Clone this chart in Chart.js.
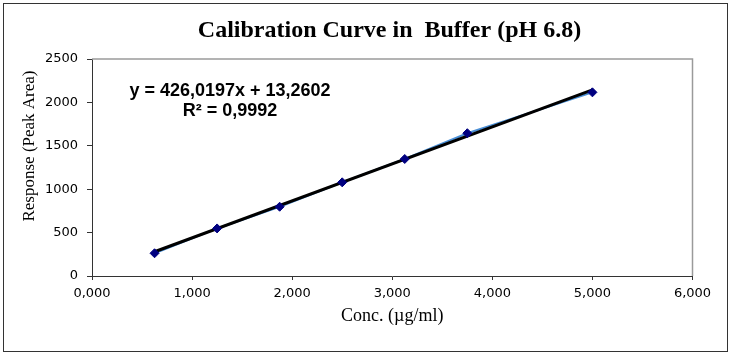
<!DOCTYPE html>
<html><head><meta charset="utf-8">
<script src="https://cdn.jsdelivr.net/npm/chart.js@4.4.1/dist/chart.umd.min.js"></script>
<style>html,body{margin:0;padding:0;background:#fff;}#wrap{width:737px;height:357px;position:relative;}canvas{display:block;}</style>
</head><body><div id="wrap"><canvas id="c" width="737" height="357"></canvas></div>
<script>
const chartTitle = 'Calibration Curve in  Buffer (pH 6.8)';
const xAxisTitle = 'Conc. (µg/ml)';
const yAxisTitle = 'Response (Peak Area)';
const concentrations = [0.625, 1.25, 1.875, 2.5, 3.125, 3.75, 5.0];
const peakAreas = [262, 548, 798, 1079, 1348, 1645, 2116];
const trendSlope = 426.0197;
const trendIntercept = 13.2602;
const equationLines = ['y = 426,0197x + 13,2602', 'R² = 0,9992'];
const xTickLabels = ['0,000', '1,000', '2,000', '3,000', '4,000', '5,000', '6,000'];
const yTickLabels = ['0', '500', '1000', '1500', '2000', '2500'];

const points = concentrations.map((x, i) => ({x: x, y: peakAreas[i]}));
const xFirst = concentrations[0], xLast = concentrations[concentrations.length - 1];
const trendPoints = [
  {x: xFirst, y: trendSlope * xFirst + trendIntercept},
  {x: xLast, y: trendSlope * xLast + trendIntercept}
];

const decor = {
  id: 'decor',
  beforeDraw(chart) {
    const ctx = chart.ctx;
    ctx.save();
    ctx.fillStyle = '#fff';
    ctx.fillRect(0, 0, chart.width, chart.height);
    ctx.restore();
  },
  afterDraw(chart) {
    const ctx = chart.ctx;
    const a = chart.chartArea;
    ctx.save();
    ctx.strokeStyle = '#9a9a9a';
    ctx.lineWidth = 1.5;
    ctx.beginPath();
    ctx.moveTo(a.left, a.top);
    ctx.lineTo(a.right, a.top);
    ctx.lineTo(a.right, a.bottom);
    ctx.stroke();
    ctx.strokeStyle = '#333';
    ctx.lineWidth = 1;
    ctx.strokeRect(3.5, 3.5, 724, 348);
    ctx.fillStyle = '#000';
    ctx.textAlign = 'center';
    ctx.textBaseline = 'alphabetic';
    ctx.font = 'bold 24px "Liberation Serif", "Times New Roman", serif';
    ctx.fillText(chartTitle, 389.5, 37);
    ctx.save();
    ctx.translate(29.5, 146);
    ctx.rotate(-Math.PI / 2);
    ctx.textBaseline = 'middle';
    ctx.font = '17px "Liberation Serif", "Times New Roman", serif';
    ctx.fillText(yAxisTitle, 0, 0);
    ctx.restore();
    ctx.font = 'bold 18px "Liberation Sans", Arial, sans-serif';
    ctx.fillText(equationLines[0], 230, 96);
    ctx.fillText(equationLines[1], 230, 116);
    ctx.restore();
  }
};

new Chart(document.getElementById('c'), {
  type: 'scatter',
  data: {
    datasets: [
      {
        label: 'markers', data: points, showLine: false, order: 1,
        pointStyle: 'rectRot', pointRadius: 4.5, pointBackgroundColor: '#000080',
        pointBorderColor: '#000080', pointBorderWidth: 1
      },
      {
        label: 'trend', data: trendPoints, showLine: true, order: 2,
        borderColor: '#000', borderWidth: 3, pointRadius: 0, fill: false
      },
      {
        label: 'series', data: points, showLine: true, order: 3,
        borderColor: '#4a8fd6', borderWidth: 2, pointRadius: 0, fill: false
      }
    ]
  },
  options: {
    responsive: false, animation: false, devicePixelRatio: 1,
    layout: {padding: {top: 59, right: 44.5, bottom: 0, left: 0}},
    plugins: {legend: {display: false}, tooltip: {enabled: false}, title: {display: false}},
    scales: {
      x: {
        type: 'linear', min: 0, max: 6,
        afterFit(s) { s.height = 81; },
        grid: {drawOnChartArea: false, drawTicks: true, tickLength: 4, color: '#333'},
        border: {color: '#333', width: 1},
        ticks: {
          stepSize: 1, padding: 6, color: '#000',
          font: {family: '"DejaVu Sans", sans-serif', size: 13},
          callback: (v) => xTickLabels[Math.round(v)]
        },
        title: {
          display: true, text: xAxisTitle, color: '#000',
          font: {family: '"Liberation Serif", "Times New Roman", serif', size: 18, lineHeight: 1},
          padding: {top: 0, bottom: 32}
        }
      },
      y: {
        type: 'linear', min: 0, max: 2500,
        afterFit(s) { s.width = 92; },
        grid: {drawOnChartArea: false, drawTicks: true, tickLength: 5, color: '#333'},
        border: {color: '#333', width: 1},
        ticks: {
          stepSize: 500, padding: 9, color: '#000',
          font: {family: '"DejaVu Sans", sans-serif', size: 13},
          callback: (v) => yTickLabels[Math.round(v / 500)]
        }
      }
    }
  },
  plugins: [decor]
});
</script>
</body></html>
